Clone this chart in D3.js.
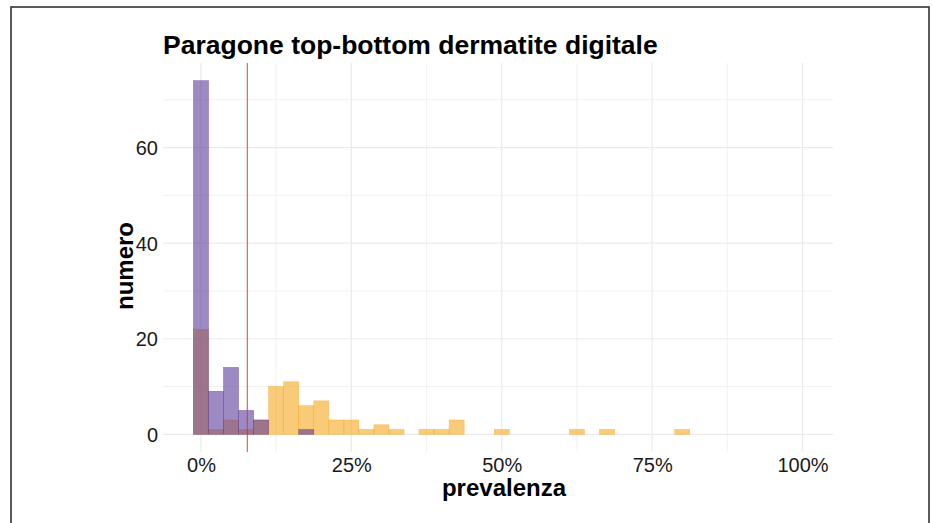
<!DOCTYPE html>
<html>
<head>
<meta charset="utf-8">
<script src="https://cdn.jsdelivr.net/npm/d3@7"></script>
<style>
  body { margin: 0; background: #fff; }
  svg { display: block; }
  text { font-family: "Liberation Sans", Arial, Helvetica, sans-serif; }
</style>
</head>
<body>
<svg id="chart" width="933" height="523"></svg>
<script>
// ---- data ----
const titleText = "Paragone top-bottom dermatite digitale";
const xLabel = "prevalenza";
const yLabel = "numero";
// bin centres (prevalence, %), binwidth 2.5
const binCenters = [0, 2.5, 5, 7.5, 10, 12.5, 15, 17.5, 20, 22.5, 25, 27.5, 30, 32.5, 35, 37.5, 40, 42.5, 45, 47.5,
                    50, 52.5, 55, 57.5, 60, 62.5, 65, 67.5, 70, 72.5, 75, 77.5, 80, 82.5, 85, 87.5, 90, 92.5, 95, 97.5];
const binWidth = 2.5;
// purple group counts
const purpleCounts = [74, 9, 14, 5, 3, 0, 0, 1, 0, 0, 0, 0, 0, 0, 0, 0, 0, 0, 0, 0,
                      0, 0, 0, 0, 0, 0, 0, 0, 0, 0, 0, 0, 0, 0, 0, 0, 0, 0, 0, 0];
// orange group counts
const orangeCounts = [22, 1, 3, 1, 3, 10, 11, 6, 7, 3, 3, 1, 2, 1, 0, 1, 1, 3, 0, 0,
                      1, 0, 0, 0, 0, 1, 0, 1, 0, 0, 0, 0, 1, 0, 0, 0, 0, 0, 0, 0];
const vlineValue = 7.7;
const xTicks = [0, 25, 50, 75, 100];
const xMinor = [12.5, 37.5, 62.5, 87.5];
const yTicks = [0, 20, 40, 60];
const yMinor = [10, 30, 50, 70];

// ---- layout ----
const svg = d3.select("#chart");
const panel = { left: 163, right: 833, top: 63, bottom: 452 };
const FONT = '"Liberation Sans", Arial, Helvetica, sans-serif';

const xData = [-1.25, 100];
const xPad = (xData[1] - xData[0]) * 0.05;
const x = d3.scaleLinear().domain([xData[0] - xPad, xData[1] + xPad]).range([panel.left, panel.right]);
const yMax = d3.max(purpleCounts.concat(orangeCounts));
const yPad = yMax * 0.05;
const y = d3.scaleLinear().domain([-yPad, yMax + yPad]).range([panel.bottom, panel.top]);

// outer border
svg.append("rect").attr("x", 11).attr("y", 7).attr("width", 918).attr("height", 540)
  .attr("fill", "none").attr("stroke", "#333").attr("stroke-width", 1.6);

// grid
const grid = svg.append("g");
grid.selectAll("line.ymin").data(yMinor).join("line")
  .attr("x1", panel.left).attr("x2", panel.right)
  .attr("y1", d => y(d)).attr("y2", d => y(d))
  .attr("stroke", "#ebebeb").attr("stroke-width", 0.7);
grid.selectAll("line.xmin").data(xMinor).join("line")
  .attr("y1", panel.top).attr("y2", panel.bottom)
  .attr("x1", d => x(d)).attr("x2", d => x(d))
  .attr("stroke", "#ebebeb").attr("stroke-width", 0.7);
grid.selectAll("line.ymaj").data(yTicks).join("line")
  .attr("x1", panel.left).attr("x2", panel.right)
  .attr("y1", d => y(d)).attr("y2", d => y(d))
  .attr("stroke", "#ebebeb").attr("stroke-width", 1.2);
grid.selectAll("line.xmaj").data(xTicks).join("line")
  .attr("y1", panel.top).attr("y2", panel.bottom)
  .attr("x1", d => x(d)).attr("x2", d => x(d))
  .attr("stroke", "#ebebeb").attr("stroke-width", 1.2);

// bars
function drawBars(counts, color) {
  svg.append("g").selectAll("rect").data(binCenters).join("rect")
    .attr("x", (d) => x(d - binWidth / 2))
    .attr("width", (d) => x(d + binWidth / 2) - x(d - binWidth / 2))
    .attr("y", (d, i) => y(counts[i]))
    .attr("height", (d, i) => y(0) - y(counts[i]))
    .attr("fill", color).attr("fill-opacity", 0.6)
    .attr("stroke", color).attr("stroke-opacity", 0.6).attr("stroke-width", 0.6);
}
drawBars(orangeCounts, "#f5a81e");
drawBars(purpleCounts, "#5e3c99");

// vertical reference line
svg.append("line")
  .attr("x1", x(vlineValue)).attr("x2", x(vlineValue))
  .attr("y1", panel.top).attr("y2", panel.bottom)
  .attr("stroke", "#d0342c").attr("stroke-width", 0.9);

// axes (text only, theme_minimal)
const xAxis = d3.axisBottom(x).tickValues(xTicks).tickFormat(d => d + "%").tickSize(0).tickPadding(0);
const gx = svg.append("g").attr("transform", `translate(0,${panel.bottom})`).call(xAxis);
gx.select(".domain").remove();
gx.selectAll("text").attr("dy", null).attr("y", 20).attr("font-size", 20).attr("fill", "#1a1a1a")
  .style("font-family", FONT);

const yAxis = d3.axisLeft(y).tickValues(yTicks).tickSize(0).tickPadding(0);
const gy = svg.append("g").attr("transform", `translate(${panel.left - 5},0)`).call(yAxis);
gy.select(".domain").remove();
gy.selectAll("text").attr("x", 0).attr("dy", "0.36em").attr("font-size", 20).attr("fill", "#1a1a1a")
  .style("font-family", FONT);

// title and axis labels
svg.append("text").attr("x", 163).attr("y", 54).text(titleText)
  .attr("font-size", 26.5).attr("font-weight", "bold").attr("fill", "#000");
svg.append("text").attr("x", 504).attr("y", 496).text(xLabel)
  .attr("text-anchor", "middle").attr("font-size", 24).attr("font-weight", "bold").attr("fill", "#000");
svg.append("text").attr("transform", `translate(133,266) rotate(-90)`)
  .text(yLabel).attr("text-anchor", "middle").attr("font-size", 24).attr("font-weight", "bold").attr("fill", "#000");
</script>
</body>
</html>
